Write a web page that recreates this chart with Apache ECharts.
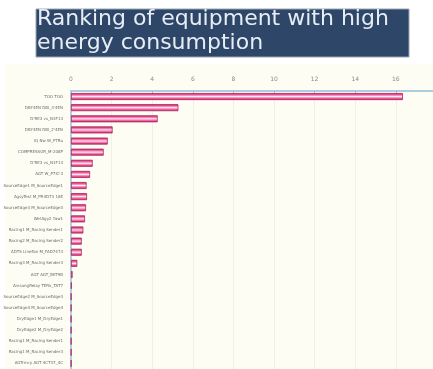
<!DOCTYPE html>
<html>
<head>
<meta charset="utf-8">
<script src="https://cdn.jsdelivr.net/npm/echarts@6/dist/echarts.min.js"></script>
<style>
html,body{margin:0;padding:0;background:#ffffff;}
#c{width:433px;height:369px;}
</style>
</head>
<body>
<div id="c"></div>
<script>
const titleLines = ["Ranking of equipment with high", "energy consumption"];
const equipment = [
  "TOO TOO",
  "DBI'4EN DBI_3'4EN",
  "D'RE3 vs_N3F13",
  "DBI'4EN DBI_2'4EN",
  "IQ Nw W_P7Ru",
  "COMPRESSOR_M-208P",
  "D'RE3 vs_N1F13",
  "AGT W_P7IC'3",
  "SourceEdge1 M_SourceEdge1",
  "AgsyTest M_PR4D73 18E",
  "SourceEdge3 M_SourceEdge3",
  "WetAgy2 Yaw1",
  "Racing1 M_Racing Sender1",
  "Racing2 M_Racing Sender2",
  "ADTS LineFan M_FAD7473",
  "Racing3 M_Racing Sender3",
  "AGT AGT_BKT9B",
  "AmsangRelay TERk_TAT7",
  "SourceEdge2 M_SourceEdge3",
  "SourceEdge4 M_SourceEdge4",
  "DryEdge1 M_DryEdge1",
  "DryEdge2 M_DryEdge2",
  "Racing1 M_Racing Sender1",
  "Racing1 M_Racing Sender3",
  "AGTrmcy AGT 4CT37_4C"
];
const consumption = [16.35, 5.29, 4.27, 2.05, 1.81, 1.61, 1.07, 0.94, 0.77, 0.79, 0.74, 0.69, 0.61, 0.53, 0.53, 0.31, 0.08, 0.03, 0.01, 0.01, 0.01, 0.01, 0.01, 0.01, 0.01];
const axisMin = 0, axisMax = 18, axisStep = 2;

const chart = echarts.init(document.getElementById('c'), null, {renderer: 'canvas'});
const barFill = new echarts.graphic.LinearGradient(0, 0, 0, 1, [
  {offset: 0, color: '#b01f58'},
  {offset: 0.18, color: '#e8438a'},
  {offset: 0.42, color: '#f8b2d0'},
  {offset: 0.5, color: '#fff2f7'},
  {offset: 0.58, color: '#f8b2d0'},
  {offset: 0.82, color: '#e8438a'},
  {offset: 1, color: '#b01f58'}
]);
chart.setOption({
  animation: false,
  backgroundColor: '#ffffff',
  graphic: [
    {type: 'rect', z: -10, silent: true, shape: {x: 6, y: 64, width: 427, height: 305}, style: {fill: '#fdfdf4'}},
    {type: 'rect', shape: {x: 36, y: 9, width: 373, height: 48}, style: {fill: '#2e4667', stroke: '#9aa6b4', lineWidth: 1}},
    {type: 'text', left: 37, top: 8, style: {text: titleLines[0], fill: '#e6edf5', font: '22px "DejaVu Sans", Verdana, sans-serif'}},
    {type: 'text', left: 37, top: 32, style: {text: titleLines[1], fill: '#e6edf5', font: '22px "DejaVu Sans", Verdana, sans-serif'}}
  ],
  grid: {left: 71, top: 91, width: 365.4, height: 278, containLabel: false, outerBoundsMode: 'none'},
  xAxis: {
    type: 'value', position: 'top', min: axisMin, max: axisMax, interval: axisStep,
    axisLine: {show: true, lineStyle: {color: '#acccdf', width: 2}},
    axisTick: {show: true, inside: true, length: 3, lineStyle: {color: '#9fbfd4'}},
    axisLabel: {color: '#8a8a8a', fontSize: 6, margin: 9, fontFamily: 'DejaVu Sans'},
    splitLine: {show: true, lineStyle: {color: '#f0f0e8', width: 1}}
  },
  yAxis: {
    type: 'category', inverse: true, data: equipment,
    axisLine: {show: true, lineStyle: {color: '#b4cfe2', width: 2}},
    axisTick: {show: false},
    axisLabel: {color: '#6a6a6a', fontSize: 4, margin: 8, fontFamily: 'DejaVu Sans', interval: 0}
  },
  series: [{
    type: 'bar', data: consumption, barWidth: 7,
    itemStyle: {color: barFill, borderColor: '#a8285e', borderWidth: 0.8}
  }]
});
</script>
</body>
</html>
